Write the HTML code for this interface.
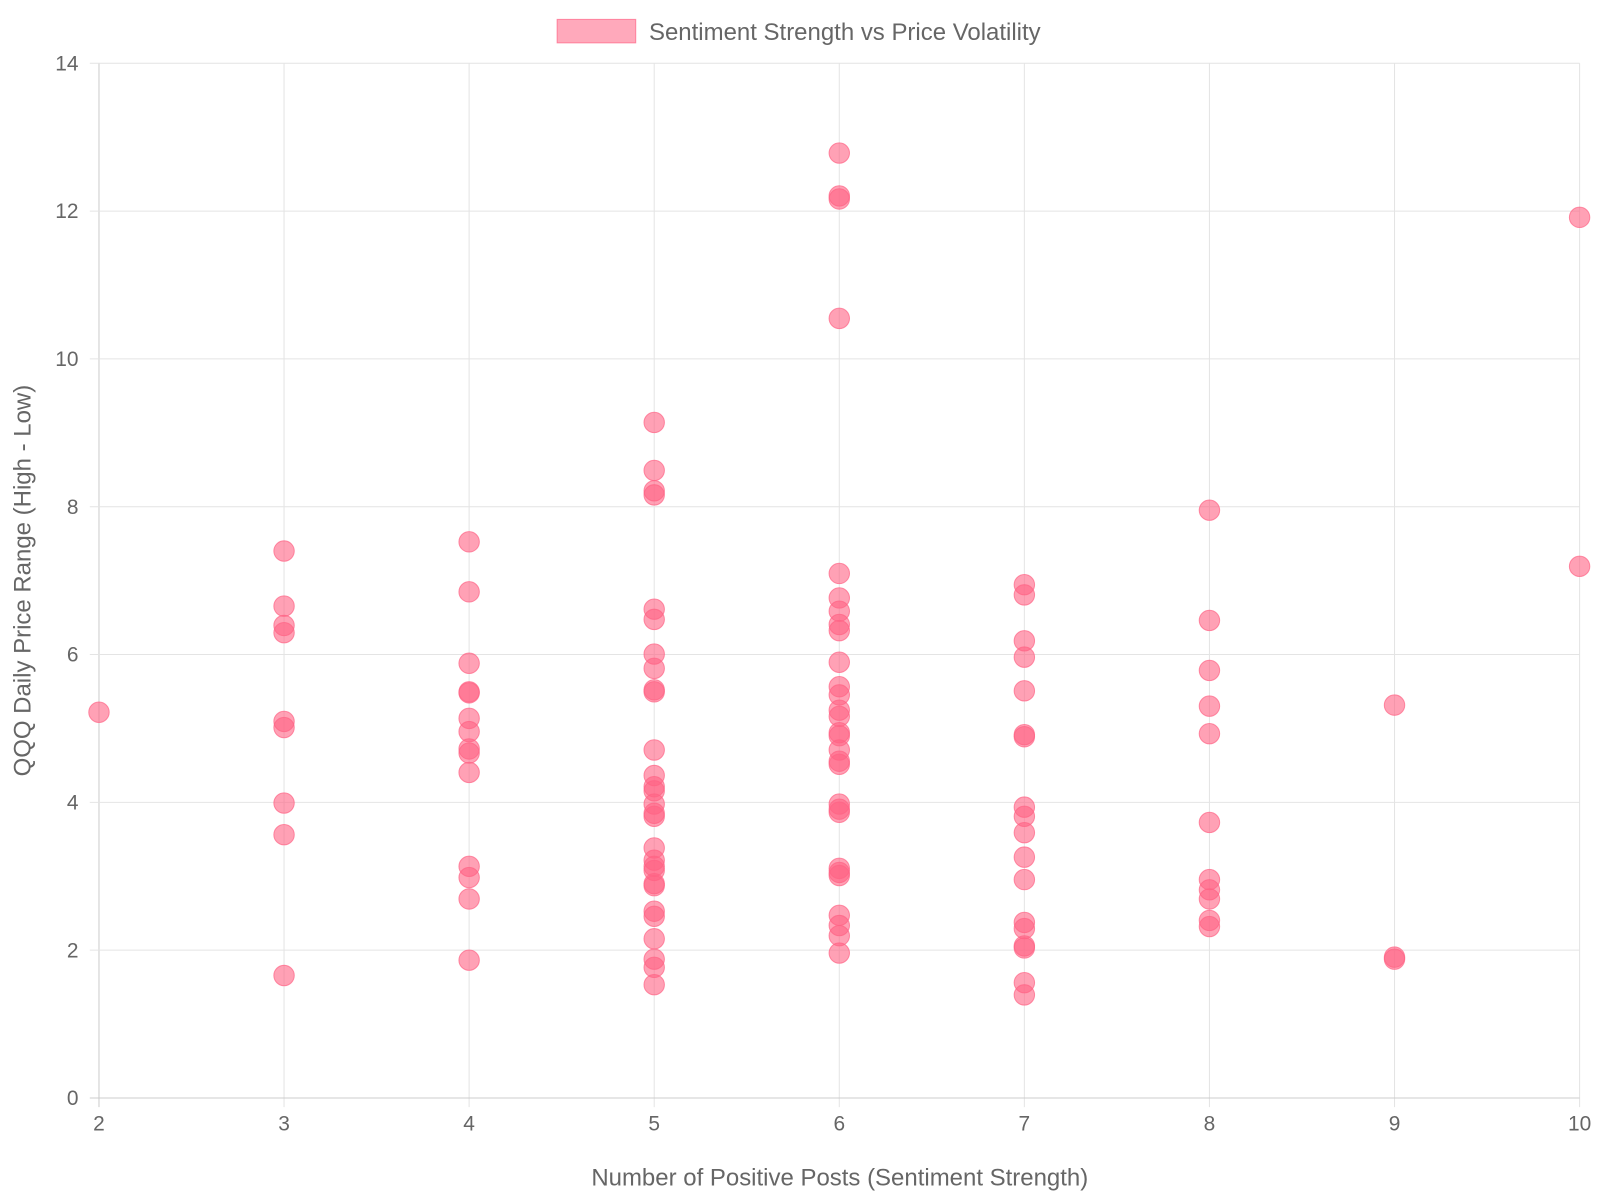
<!DOCTYPE html>
<html><head><meta charset="utf-8"><style>
html,body{margin:0;padding:0;background:#fff;}
svg{display:block;}
text{font-family:"Liberation Sans",Arial,sans-serif;fill:#666;}
</style></head><body>
<svg width="1600" height="1200" viewBox="0 0 1568 1176" preserveAspectRatio="none" xmlns="http://www.w3.org/2000/svg">
<rect width="1568" height="1176" fill="#fff"/>
<g id="grid" stroke="#e4e4e4" stroke-width="1"></g>
<g id="pts"></g>
<g id="lbl" font-size="20.5"></g>
<rect x="546" y="19" width="77" height="23" fill="rgba(255,99,132,0.55)" stroke="rgba(255,99,132,0.7)" stroke-width="1"/>
<text x="636" y="39" font-size="23.5">Sentiment Strength vs Price Volatility</text>
<text x="823" y="1162" font-size="23.5" text-anchor="middle">Number of Positive Posts (Sentiment Strength)</text>
<text transform="translate(30,569) rotate(-90)" font-size="23.5" text-anchor="middle">QQQ Daily Price Range (High - Low)</text>
</svg>
<script>
const ns="http://www.w3.org/2000/svg";
const X0=97,X1=1548,Y0=1076,Y1=62;
const xp=v=>X0+(v-2)*(X1-X0)/8, yp=v=>Y0-v*(Y0-Y1)/14;
const g=document.getElementById('grid'),l=document.getElementById('lbl'),p=document.getElementById('pts');
function mk(t,a,par){const e=document.createElementNS(ns,t);for(const k in a)e.setAttribute(k,a[k]);par.appendChild(e);return e;}
for(let i=2;i<=10;i++){const x=xp(i);mk('line',{x1:x,x2:x,y1:Y1,y2:Y0+9,stroke:i==2?'#ccc':'#e4e4e4'},g);
 const t=mk('text',{x:x,y:Y0+32,'text-anchor':'middle'},l);t.textContent=i;}
for(let v=0;v<=14;v+=2){const y=yp(v);mk('line',{x1:X0-9,x2:X1,y1:y,y2:y,stroke:v==0?'#ccc':'#e4e4e4'},g);
 const t=mk('text',{x:X0-20,y:y+7,'text-anchor':'end'},l);t.textContent=v;}
const d={2:[698],3:[540,594,613,620,707,713,787,818,956],
4:[531,580,650,678,679,704,717,734,738,757,849,860,881,941],
5:[414,461,481,485,597,607,641,655,676,678,735,760,771,775,788,797,800,831,843,849,853,866,868,893,898,920,940,948,965],
6:[150,192,195,312,562,586,599,612,618,649,673,681,696,702,718,721,735,746,749,788,793,796,851,855,858,897,907,917,934],
7:[573,583,628,644,677,720,722,791,800,816,840,862,904,910,927,929,963,975],
8:[500,608,657,692,719,806,862,872,881,902,908],
9:[691,938,940],10:[213,555]};
for(const k in d)for(const y of d[k])mk('circle',{cx:xp(+k),cy:y,r:10,fill:'rgba(255,99,132,0.6)',stroke:'rgba(255,99,132,0.7)','stroke-width':1},p);
</script>
</body></html>
